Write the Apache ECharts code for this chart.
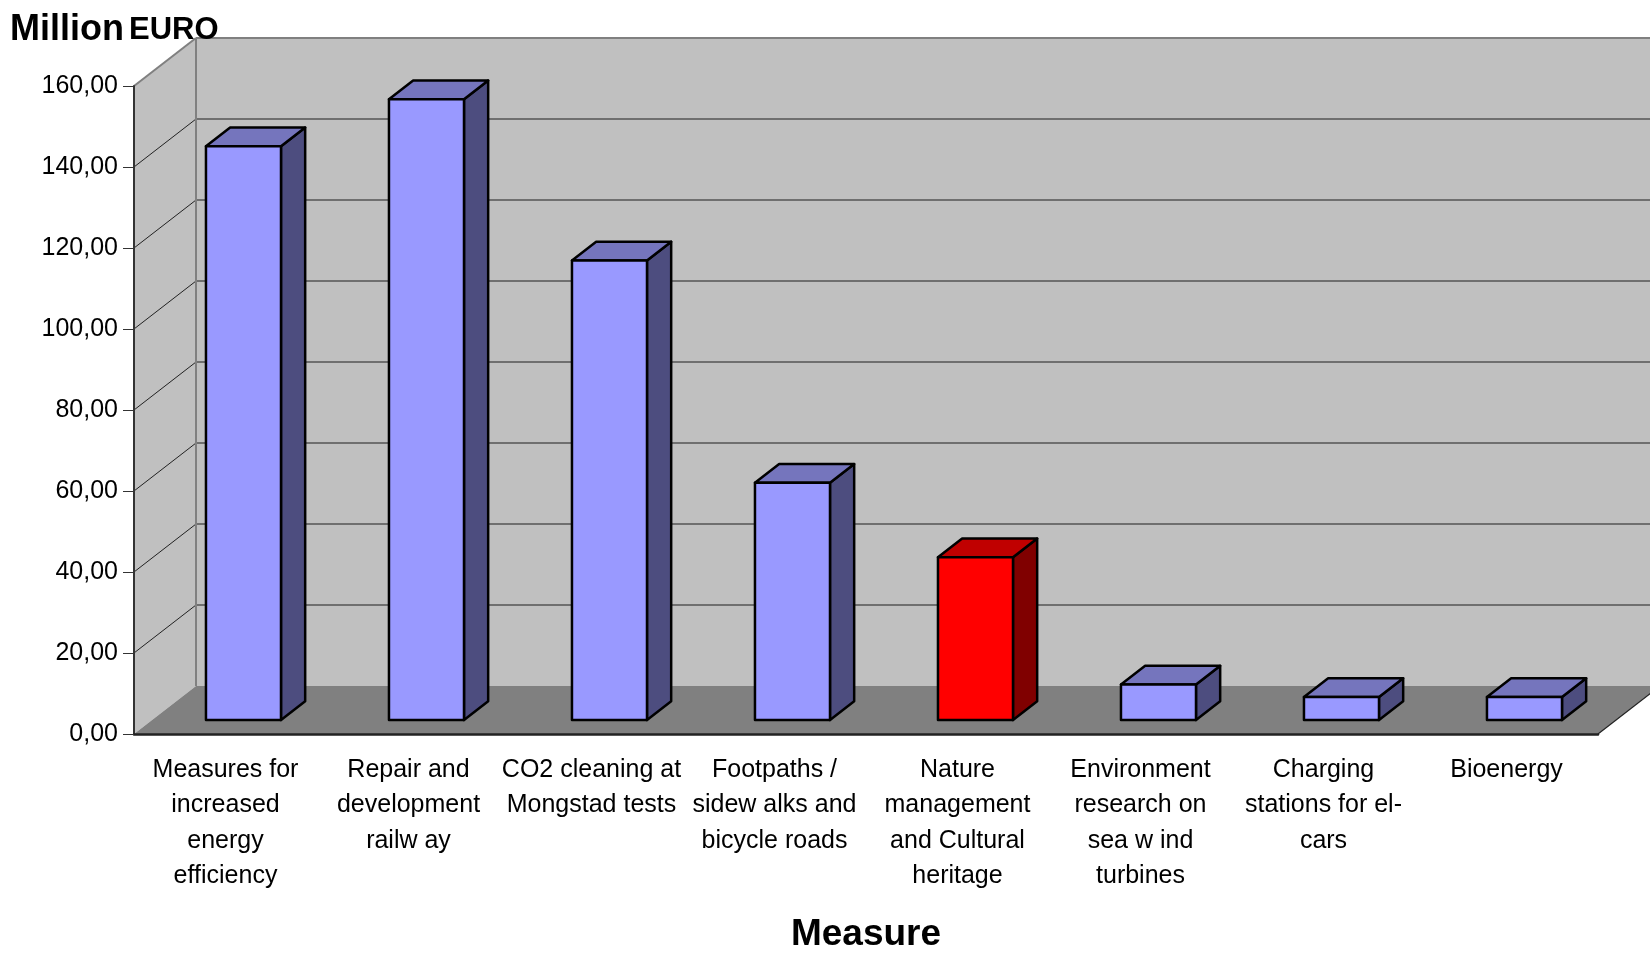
<!DOCTYPE html>
<html>
<head>
<meta charset="utf-8">
<script src="https://cdn.jsdelivr.net/npm/echarts@6/dist/echarts.min.js"></script>
<style>
  html, body { margin: 0; padding: 0; background: #fff; }
  #chart { width: 1650px; height: 958px; }
</style>
</head>
<body>
<div id="chart"></div>
<script>
// datos del gráfico
const measures = [
    "Measures for\nincreased\nenergy\nefficiency",
    "Repair and\ndevelopment\nrailw ay",
    "CO2 cleaning at\nMongstad tests",
    "Footpaths /\nsidew alks and\nbicycle roads",
    "Nature\nmanagement\nand Cultural\nheritage",
    "Environment\nresearch on\nsea w ind\nturbines",
    "Charging\nstations for el-\ncars",
    "Bioenergy"
];
const millionEuro = [141.7, 153.3, 113.5, 58.6, 40.2, 8.8, 5.7, 5.7];
const yTicks = [0, 20, 40, 60, 80, 100, 120, 140, 160];
const highlighted = "Nature\nmanagement\nand Cultural\nheritage";

// profundidad del efecto 3D (en píxeles)
const DX = 62, DY = -48;
const FRONT = 0.29, BACK = 0.68; // posición de la barra dentro de la profundidad
const FONT = "'Liberation Sans', Arial, sans-serif";

const chart = echarts.init(document.getElementById("chart"));

// paredes, suelo y líneas de cuadrícula
function renderWalls(params, api) {
    const cs = params.coordSys;
    const L = cs.x, R = cs.x + cs.width, T = cs.y, B = cs.y + cs.height;
    const children = [
        { type: 'polygon', shape: { points: [[L, T], [L + DX, T + DY], [L + DX, B + DY], [L, B]] }, style: { fill: '#c0c0c0' } },
        { type: 'polygon', shape: { points: [[L + DX, T + DY], [R + DX + 40, T + DY], [R + DX + 40, B + DY], [L + DX, B + DY]] }, style: { fill: '#c0c0c0' } },
        { type: 'polygon', shape: { points: [[L, B], [L + DX, B + DY], [R + DX, B + DY], [R, B]] }, style: { fill: '#808080' } },
        { type: 'line', shape: { x1: R, y1: B, x2: R + DX, y2: B + DY }, style: { stroke: '#222', lineWidth: 1.2 } }
    ];
    yTicks.forEach(function (v) {
        if (v === 0) return;
        const y = api.coord([0, v])[1];
        const top = v === yTicks[yTicks.length - 1];
        children.push({ type: 'line', shape: { x1: L + DX, y1: y + DY, x2: R + DX + 40, y2: y + DY },
            style: { stroke: top ? '#808080' : '#555', lineWidth: top ? 2 : 1.5 } });
        children.push({ type: 'line', shape: { x1: L, y1: y, x2: L + DX, y2: y + DY },
            style: { stroke: top ? '#808080' : '#222', lineWidth: top ? 2 : 1 } });
    });
    children.push({ type: 'line', shape: { x1: L + DX, y1: T + DY, x2: L + DX, y2: B + DY }, style: { stroke: '#808080', lineWidth: 2 } });
    return { type: 'group', children: children };
}

// barras en 3D
function renderBar(params, api) {
    const idx = api.value(0);
    const c0 = api.coord([idx, 0]);
    const c1 = api.coord([idx, api.value(1)]);
    const half = api.size([1, 0])[0] * 0.205;
    const x0 = c0[0] - half + FRONT * DX, x1 = c0[0] + half + FRONT * DX;
    const yb = c0[1] + FRONT * DY, yt = c1[1] + FRONT * DY;
    const ddx = (BACK - FRONT) * DX, ddy = (BACK - FRONT) * DY;
    const red = measures[idx] === highlighted;
    const cols = red ? ['#ff0000', '#c00000', '#800000'] : ['#9999ff', '#7575bd', '#4d4d7f'];
    const stroke = { stroke: '#000', lineWidth: 2.5, lineJoin: 'round' };
    return {
        type: 'group',
        children: [
            { type: 'polygon', shape: { points: [[x1, yt], [x1 + ddx, yt + ddy], [x1 + ddx, yb + ddy], [x1, yb]] }, style: Object.assign({ fill: cols[2] }, stroke) },
            { type: 'polygon', shape: { points: [[x0, yt], [x1, yt], [x1 + ddx, yt + ddy], [x0 + ddx, yt + ddy]] }, style: Object.assign({ fill: cols[1] }, stroke) },
            { type: 'rect', shape: { x: x0, y: yt, width: x1 - x0, height: yb - yt }, style: Object.assign({ fill: cols[0] }, stroke) }
        ]
    };
}

const option = {
    animation: false,
    backgroundColor: '#fff',
    title: {
        text: '{a|Million} {b|EURO}',
        left: 5, top: 7,
        textStyle: {
            rich: {
                a: { fontFamily: FONT, fontWeight: 'bold', fontSize: 36, color: '#000' },
                b: { fontFamily: FONT, fontWeight: 'bold', fontSize: 31, color: '#000' }
            }
        }
    },
    grid: { left: 134, right: 52, top: 86, bottom: 214.5 },
    xAxis: {
        type: 'category',
        data: measures,
        z: 10,
        name: 'Measure',
        nameLocation: 'middle',
        nameGap: 182,
        nameTextStyle: { fontFamily: FONT, fontWeight: 'bold', fontSize: 37, color: '#000' },
        axisLine: { lineStyle: { color: '#222', width: 2.5 } },
        axisTick: { length: 13, lineStyle: { color: '#333', width: 1 } },
        axisLabel: { interval: 0, margin: 18, fontFamily: FONT, fontSize: 25, lineHeight: 35.5, color: '#000' },
        splitLine: { show: false }
    },
    yAxis: {
        type: 'value',
        min: 0, max: 160, interval: 20,
        z: 10,
        axisLine: { show: true, lineStyle: { color: '#333', width: 2 } },
        axisTick: { show: true, length: 11, lineStyle: { color: '#333', width: 1 } },
        axisLabel: {
            margin: 16, fontFamily: FONT, fontSize: 25, color: '#000',
            formatter: v => v.toFixed(2).replace('.', ',')
        },
        splitLine: { show: false }
    },
    series: [
        { type: 'custom', z: 1, renderItem: renderWalls, data: [[0, 0]], silent: true },
        { type: 'custom', z: 3, renderItem: renderBar, data: millionEuro.map((v, i) => [i, v]) }
    ]
};

chart.setOption(option);
</script>
</body>
</html>
